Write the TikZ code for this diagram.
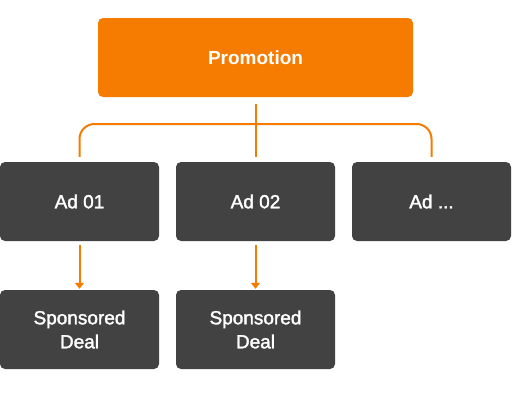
\documentclass[tikz,border=0pt]{standalone}
\usepackage{fontspec}
\setmainfont{Liberation Sans}
\newfontfamily\medfont[FakeBold=1.8]{Liberation Sans}
\usetikzlibrary{positioning,arrows.meta,calc}
\definecolor{promoorange}{HTML}{F57C00}
\definecolor{boxgray}{HTML}{424242}
\tikzset{
  topnode/.style={rounded corners=5pt, fill=promoorange, text=white, minimum width=315pt, minimum height=79pt, align=center, font=\fontsize{19}{22}\selectfont\bfseries},
  adnode/.style={rounded corners=5pt, fill=boxgray, text=white, minimum width=159pt, minimum height=79pt, align=center, font=\fontsize{19}{24}\selectfont\medfont},
  branchline/.style={line width=2pt, promoorange, rounded corners=15pt},
  dealarrow/.style={-{Triangle[width=9pt, length=6pt]}, line width=2pt, promoorange, shorten <=4pt, shorten >=1pt}
}
\begin{document}
\begin{tikzpicture}[x=1pt, y=-1pt]
  \useasboundingbox[fill=white] (0,0) rectangle (512,402);
  \node[topnode] (promo) at (255.5,57.5) {Promotion};
  \node[adnode] (ad1) at (79.5,201.5) {Ad 01};
  \node[adnode] (ad2) at (255.5,201.5) {Ad 02};
  \node[adnode] (ad3) at (431.5,201.5) {Ad ...};
  \node[adnode] (deal1) at (79.5,329.5) {Sponsored\\Deal};
  \node[adnode] (deal2) at (255.5,329.5) {Sponsored\\Deal};
  \coordinate (bar) at (255.5,124);
  % tree lines
  \draw[branchline, shorten <=7pt, shorten >=5pt] (promo.south) -- (ad2.north);
  \draw[branchline] ([yshift=5pt]ad1.north) -- (ad1.north |- bar) -- (ad3.north |- bar) -- ([yshift=5pt]ad3.north);
  \draw[dealarrow] (ad1.south) -- (deal1.north);
  \draw[dealarrow] (ad2.south) -- (deal2.north);
\end{tikzpicture}
\end{document}
